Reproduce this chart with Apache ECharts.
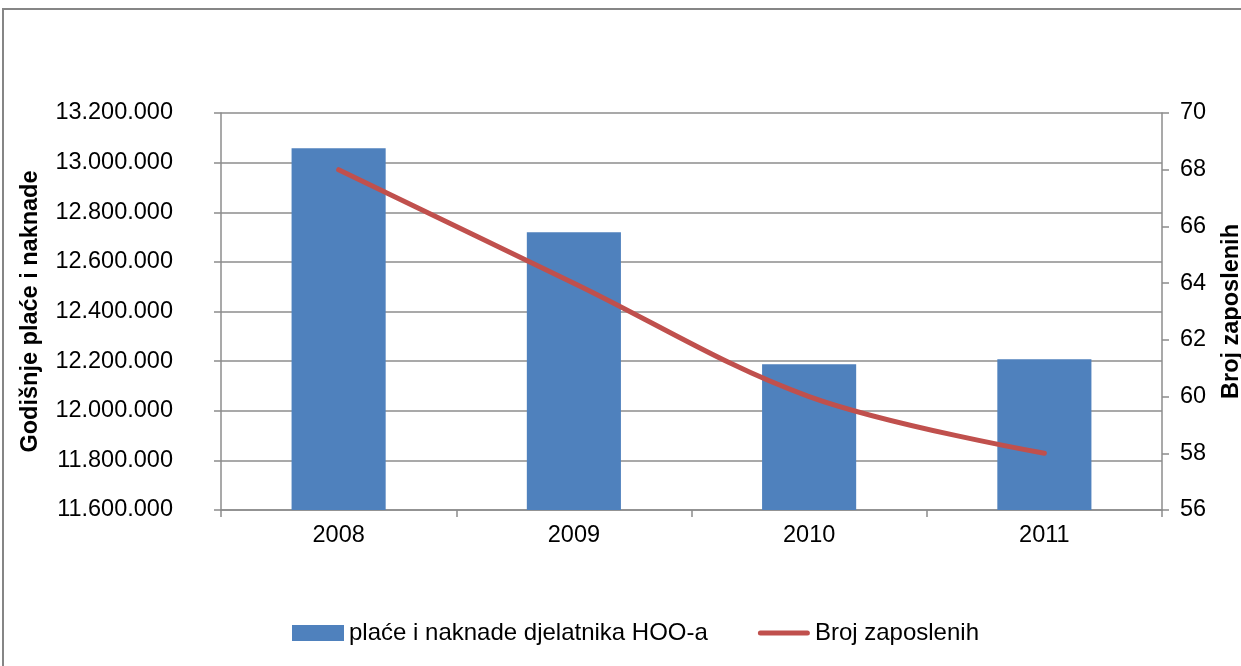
<!DOCTYPE html>
<html>
<head>
<meta charset="utf-8">
<script src="https://cdn.jsdelivr.net/npm/echarts@6/dist/echarts.min.js"></script>
<style>
  html, body { margin: 0; padding: 0; background: #fff; }
  #chart { width: 1241px; height: 666px; }
</style>
</head>
<body>
<div id="chart"></div>
<script>
// podaci očitani sa slike
const years = ['2008', '2009', '2010', '2011']
const placeValues = [13058000, 12719000, 12187000, 12208000]
const zaposleniValues = [68, 64, 60, 58]

const leftMin = 11600000
const leftMax = 13200000
const leftStep = 200000
const rightMin = 56
const rightMax = 70
const rightStep = 2

const FONT = '"Liberation Sans", Arial, sans-serif'
const GRID_GRAY = '#8c8c8c'

function formatThousands(v) {
  return String(v).replace(/\B(?=(\d{3})+(?!\d))/g, '.')
}

const chart = echarts.init(document.getElementById('chart'))

chart.setOption({
  backgroundColor: '#fff',
  animation: false,
  textStyle: { fontFamily: FONT },
  graphic: [
    {
      type: 'rect',
      shape: { x: 3, y: 9, width: 1260, height: 700 },
      style: { fill: 'none', stroke: '#868686', lineWidth: 2 },
      silent: true
    }
  ],
  grid: {
    left: 221,
    right: 79,
    top: 113,
    bottom: 156,
    outerBoundsMode: 'none'
  },
  legend: {
    bottom: 16,
    left: 287,
    itemWidth: 52,
    itemHeight: 16,
    itemGap: 50,
    textStyle: { fontSize: 24, color: '#000', fontFamily: FONT },
    data: [
      { name: 'plaće i naknade djelatnika HOO-a', icon: 'rect' },
      { name: 'Broj zaposlenih', icon: 'path://M2.5,0 L49.5,0 A2.5,2.5 0 0 1 49.5,5 L2.5,5 A2.5,2.5 0 0 1 2.5,0 Z' }
    ]
  },
  xAxis: {
    type: 'category',
    data: years,
    axisLine: { lineStyle: { color: GRID_GRAY, width: 1.5 } },
    axisTick: { show: true, length: 7, lineStyle: { color: GRID_GRAY, width: 1.5 } },
    axisLabel: { color: '#000', fontSize: 23.5, margin: 14 }
  },
  yAxis: [
    {
      type: 'value',
      min: leftMin,
      max: leftMax,
      interval: leftStep,
      name: 'Godišnje plaće i naknade',
      nameLocation: 'middle',
      nameRotate: 90,
      nameGap: 178,
      nameTextStyle: { fontSize: 23.5, fontWeight: 'bold', color: '#000' },
      axisLine: { show: true, lineStyle: { color: GRID_GRAY, width: 1.5 } },
      axisTick: { show: true, length: 7, lineStyle: { color: GRID_GRAY, width: 1.5 } },
      axisLabel: { color: '#000', fontSize: 23.5, margin: 48, formatter: formatThousands },
      splitLine: { lineStyle: { color: GRID_GRAY, width: 1.5 } }
    },
    {
      type: 'value',
      min: rightMin,
      max: rightMax,
      interval: rightStep,
      name: 'Broj zaposlenih',
      nameLocation: 'middle',
      nameRotate: 90,
      nameGap: 58,
      nameTextStyle: { fontSize: 23.5, fontWeight: 'bold', color: '#000' },
      axisLine: { show: true, lineStyle: { color: GRID_GRAY, width: 1.5 } },
      axisTick: { show: true, length: 7, lineStyle: { color: GRID_GRAY, width: 1.5 } },
      axisLabel: { color: '#000', fontSize: 23.5, margin: 18 },
      splitLine: { show: false }
    }
  ],
  series: [
    {
      name: 'plaće i naknade djelatnika HOO-a',
      type: 'bar',
      yAxisIndex: 0,
      barWidth: '40%',
      itemStyle: { color: '#4F81BD' },
      data: placeValues
    },
    {
      name: 'Broj zaposlenih',
      type: 'line',
      yAxisIndex: 1,
      smooth: 0.35,
      symbol: 'none',
      lineStyle: { color: '#C0504D', width: 5, cap: 'round' },
      itemStyle: { color: '#C0504D' },
      data: zaposleniValues
    }
  ]
})
</script>
</body>
</html>
